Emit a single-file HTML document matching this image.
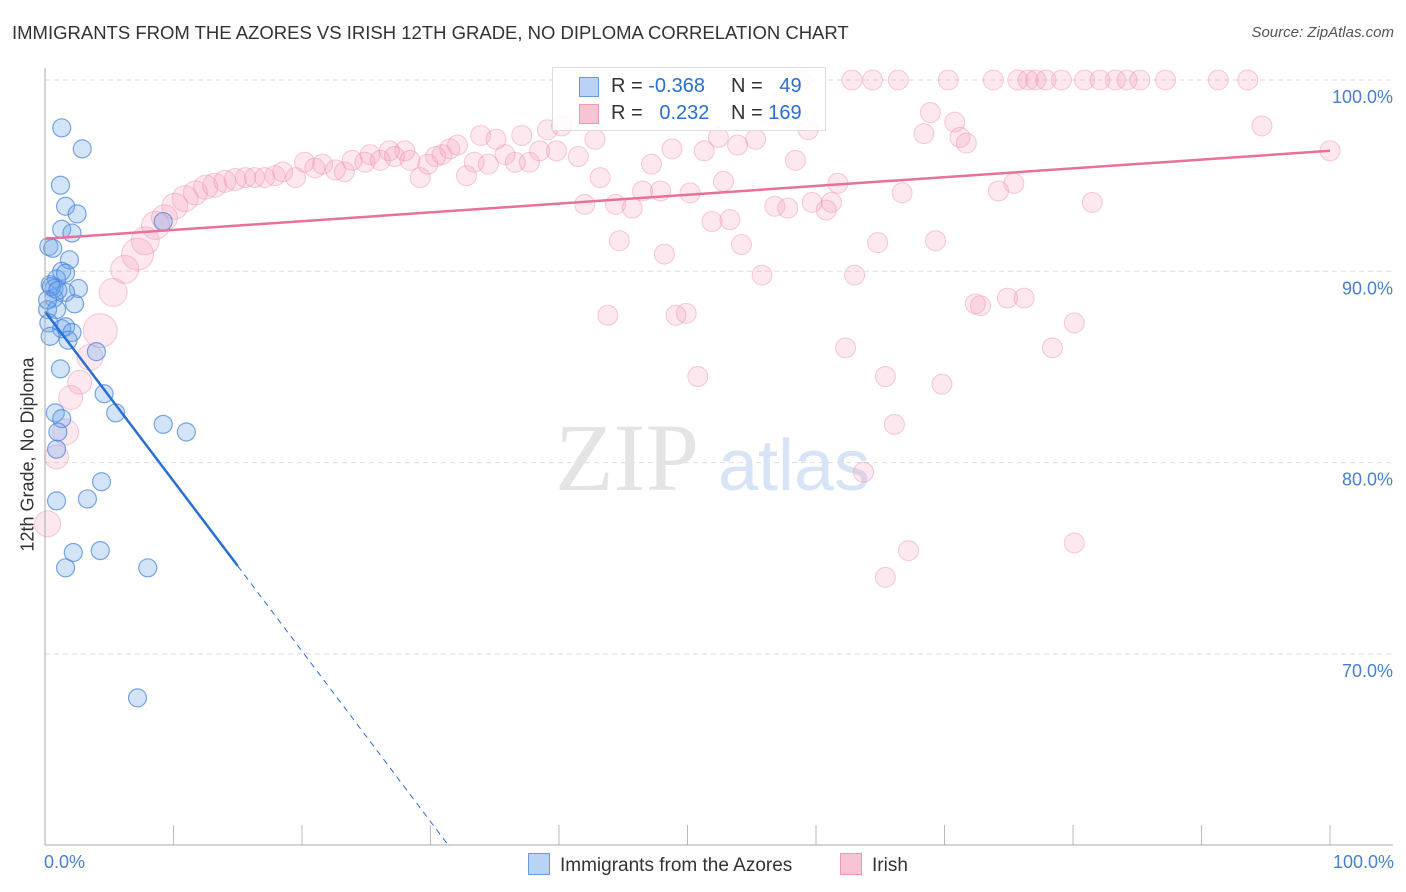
<!DOCTYPE html>
<html><head><meta charset="utf-8"><style>
body{margin:0;background:#fff;font-family:"Liberation Sans",sans-serif}
#wrap{position:relative;width:1406px;height:892px;overflow:hidden}
.t{position:absolute;white-space:nowrap}
</style></head><body>
<div id="wrap">
<div class="t" style="left:12px;top:22px;font-size:18.5px;color:#333">IMMIGRANTS FROM THE AZORES VS IRISH 12TH GRADE, NO DIPLOMA CORRELATION CHART</div>
<div class="t" style="right:12px;top:24px;font-size:15px;color:#555;font-style:italic">Source: ZipAtlas.com</div>
<svg id="svg" width="1406" height="892" style="position:absolute;left:0;top:0"></svg>
</div>
<script>
const blueX=[1.3,2.9,1.2,1.6,2.5,1.3,2.1,0.3,0.6,1.9,1.3,0.9,1.6,0.4,0.7,2.6,1.6,0.7,2.3,0.2,0.9,0.3,1.6,1.3,2.1,1.8,0.4,4.0,1.2,4.6,5.5,9.2,11.0,0.8,1.3,1.0,0.9,4.4,0.9,3.3,2.2,4.3,1.6,8.0,7.2,9.2,0.5,1.0,0.2];
const blueY=[97.5,96.4,94.5,93.4,93.0,92.2,92.0,91.3,91.2,90.6,90.0,89.6,89.9,89.3,89.1,89.1,88.9,88.6,88.3,88.0,88.0,87.3,87.1,87.0,86.8,86.4,86.6,85.8,84.9,83.6,82.6,82.0,81.6,82.6,82.3,81.6,80.7,79.0,78.0,78.1,75.3,75.4,74.5,74.5,67.7,92.6,89.2,89.0,88.5];
const pinkX=[0.2,0.9,1.6,2.0,2.7,3.5,4.3,5.3,6.2,7.2,7.8,8.6,9.3,10.1,10.9,11.7,12.5,13.2,14.0,14.8,15.6,16.3,17.1,17.9,
18.5,19.5,20.2,21.0,21.6,22.6,23.3,23.9,24.9,25.3,26.1,26.8,27.2,28.0,28.4,29.2,29.8,30.4,30.9,31.5,32.1,32.8,33.4,33.9,34.5,35.1,35.8,36.6,37.1,37.7,38.5,39.1,39.8,40.2,41.5,42.0,42.8,43.2,44.4,44.7,45.7,46.5,47.2,47.9,48.2,48.8,50.2,51.3,51.9,52.4,52.8,53.3,53.9,54.2,55.3,55.8,56.4,56.8,57.4,57.8,58.4,59.4,59.7,60.8,61.2,61.7,62.3,63.0,64.8,65.4,66.1,66.7,67.2,65.4,63.7,68.4,68.9,69.3,69.8,70.8,71.2,71.7,72.4,72.8,74.2,74.9,75.4,76.2,78.4,80.1,80.1,81.5,94.7,100,43.8,49.1,49.9,50.8,
58.8,62.8,64.4,66.4,70.3,73.8,75.7,76.5,77.1,77.9,79.1,80.9,82.1,83.3,84.2,85.2,87.2,91.3,93.6];
const pinkY=[76.8,80.3,81.6,83.4,84.2,85.5,86.9,88.9,90.1,90.9,91.6,92.4,92.8,93.4,93.8,94.1,94.4,94.5,94.7,94.8,94.9,94.9,94.9,95.0,
95.2,94.9,95.7,95.4,95.6,95.3,95.2,95.8,95.7,96.1,95.8,96.3,96.0,96.3,95.8,94.9,95.6,96.0,96.1,96.4,96.6,95.0,95.7,97.1,95.6,96.9,96.1,95.7,97.1,95.7,96.3,97.4,96.3,97.6,96.0,93.5,96.9,94.9,93.5,91.6,93.3,94.2,95.6,94.2,90.9,96.4,94.1,96.3,92.6,97.0,94.7,92.7,96.6,91.4,96.9,89.8,98.2,93.4,98.5,93.3,95.8,97.4,93.6,93.2,93.6,94.6,86.0,89.8,91.5,84.5,82.0,94.1,75.4,74.0,79.5,97.2,98.3,91.6,84.1,97.8,97.0,96.7,88.3,88.2,94.2,88.6,94.6,88.6,86.0,87.3,75.8,93.6,97.6,96.3,87.7,87.7,87.8,84.5,
100,100,100,100,100,100,100,100,100,100,100,100,100,100,100,100,100,100,100];
const pinkSize=[13,12,13,12,12,13,17,14,14,16,14,14,13,13,13,12,12,12,11,11,10,10,10,10];
const yTicks=[100,90,80,70];
const yTickLabels=["100.0%","90.0%","80.0%","70.0%"];
const xTicks=[0,10,20,30,40,50,60,70,80,90,100];
const blueTrend=[[0,87.9],[15,74.6],[31.5,59.9]];
const pinkTrend=[[0,91.7],[100,96.3]];

const X=v=>45+v*12.85, Y=v=>80+(100-v)*19.13;
const svg=document.getElementById('svg');
const NS='http://www.w3.org/2000/svg';
function mk(tag,attrs,parent){const e=document.createElementNS(NS,tag);for(const k in attrs)e.setAttribute(k,attrs[k]);(parent||svg).appendChild(e);return e;}
yTicks.forEach((v,i)=>{
 const g=mk('line',{x1:45,x2:1393,y1:Y(v),y2:Y(v),stroke:'#ddd','stroke-dasharray':'5,4'});
 
 
 const t=mk('text',{x:1393,y:Y(v)+23,'text-anchor':'end','font-size':18,fill:'#4a7fd4','font-family':'Liberation Sans'});
 t.textContent=yTickLabels[i];
 
 
});
xTicks.forEach(v=>{
 const l=mk('line',{x1:X(v),x2:X(v),y1:825,y2:845,stroke:'#bbb'});
 
 
});
const wm=mk('text',{x:555,y:490,'font-size':96,fill:'#e4e4e4','font-family':'Liberation Serif'});wm.textContent='ZIP';


const wm2=mk('text',{x:718,y:490,'font-size':72,fill:'#d6e4f5','font-family':'Liberation Sans'});wm2.textContent='atlas';


pinkX.forEach((v,i)=>{
 const c=mk('circle',{cx:X(v),cy:Y(pinkY[i]),r:pinkSize[i]||10,fill:'rgba(244,150,180,0.22)',stroke:'rgba(235,140,170,0.45)','stroke-width':1});
 
 
});
blueX.forEach((v,i)=>{
 const c=mk('circle',{cx:X(v),cy:Y(blueY[i]),r:9,fill:'rgba(110,165,235,0.3)',stroke:'rgba(70,130,220,0.7)','stroke-width':1.2});
 
 
});
const pl=mk('line',{x1:X(pinkTrend[0][0]),y1:Y(pinkTrend[0][1]),x2:X(pinkTrend[1][0]),y2:Y(pinkTrend[1][1]),stroke:'#e8709a','stroke-width':2.5});


const bl=mk('line',{x1:X(blueTrend[0][0]),y1:Y(blueTrend[0][1]),x2:X(blueTrend[1][0]),y2:Y(blueTrend[1][1]),stroke:'#2a6fd6','stroke-width':2.5});


const bd=mk('line',{x1:X(blueTrend[1][0]),y1:Y(blueTrend[1][1]),x2:X(blueTrend[2][0]),y2:Y(blueTrend[2][1]),stroke:'#2a6fd6','stroke-width':1,'stroke-dasharray':'6,5'});


const ya=mk('line',{x1:45,x2:45,y1:68,y2:845,stroke:'#aaa'});


const xa=mk('line',{x1:45,x2:1393,y1:845,y2:845,stroke:'#aaa'});


</script>
<div class="t" style="left:-122px;top:444px;width:300px;text-align:center;font-size:18px;color:#333;transform:rotate(-90deg);transform-origin:center">12th Grade, No Diploma</div>
<div class="t" style="left:44px;top:852px;font-size:18px;color:#4a7fd4">0.0%</div>
<div class="t" style="right:12px;top:852px;font-size:18px;color:#4a7fd4">100.0%</div>
<div style="position:absolute;left:552px;top:67px;width:272px;height:62px;border:1px solid #ddd;background:rgba(255,255,255,0.85);font-size:20px;color:#333">
 <div style="position:absolute;left:26px;top:9px;width:18px;height:18px;background:#b8d3f5;border:1px solid #6a9be0"></div>
 <div class="t" style="left:58px;top:7px">R = <span style="color:#2a6fd6">-0.368</span></div>
 <div class="t" style="left:178px;top:7px">N = <span style="color:#2a6fd6">&nbsp;&nbsp;49</span></div>
 <div style="position:absolute;left:26px;top:36px;width:18px;height:18px;background:#f8c4d4;border:1px solid #ee98b4"></div>
 <div class="t" style="left:58px;top:34px">R = <span style="color:#2a6fd6">&nbsp;&nbsp;0.232</span></div>
 <div class="t" style="left:178px;top:34px">N = <span style="color:#2a6fd6">169</span></div>
</div>
<div style="position:absolute;left:528px;top:853px;font-size:19px;color:#333">
 <span style="display:inline-block;width:20px;height:20px;background:#b8d3f5;border:1px solid #6a9be0;vertical-align:-4px;margin-right:10px"></span>Immigrants from the Azores</div>
<div style="position:absolute;left:840px;top:853px;font-size:19px;color:#333">
 <span style="display:inline-block;width:20px;height:20px;background:#f8c4d4;border:1px solid #ee98b4;vertical-align:-4px;margin-right:10px"></span>Irish</div>
</body></html>
